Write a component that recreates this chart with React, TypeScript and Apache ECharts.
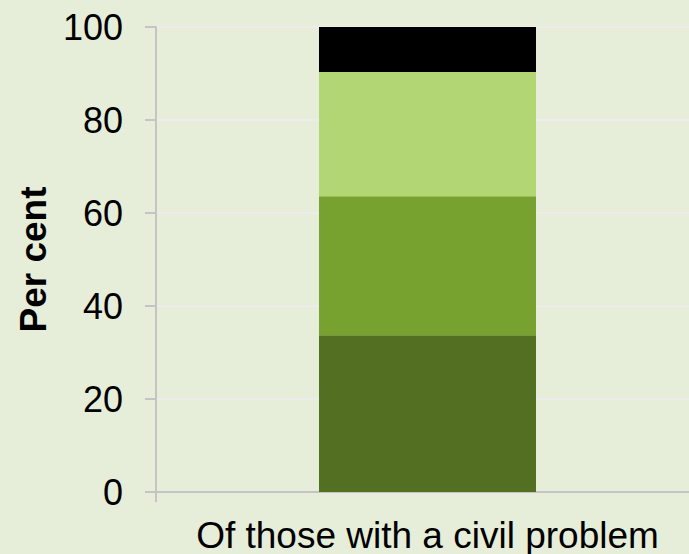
import React, { useEffect, useRef } from "react";
import * as echarts from "echarts";

// Category and stacked shares (per cent)
const categories = ["Of those with a civil problem"];
const seriesNames = ["Group 1", "Group 2", "Group 3", "Group 4"];
const seriesValues = [[33.7], [29.9], [26.7], [9.7]];
const seriesColors = ["#536f22", "#78a22f", "#b3d675", "#000000"];
const yTicks = { min: 0, max: 100, interval: 20 };

export default function App() {
  const ref = useRef<HTMLDivElement>(null);

  useEffect(() => {
    if (!ref.current) return;
    const chart = echarts.init(ref.current, undefined, { renderer: "svg" });
    const font = "'Liberation Sans', Arial, sans-serif";
    chart.setOption({
      animation: false,
      backgroundColor: "#e6edd8",
      // plot area runs slightly past the right edge of the window
      grid: { left: 156, right: 0, top: 27, bottom: 62, containLabel: false },
      xAxis: {
        type: "category",
        data: categories,
        axisLine: { show: true, lineStyle: { color: "#c4c4c4", width: 2 } },
        axisTick: {
          show: true,
          alignWithLabel: false,
          length: 10,
          lineStyle: { color: "#c4c4c4", width: 2 },
        },
        axisLabel: {
          color: "#000",
          fontFamily: font,
          fontSize: 37,
          lineHeight: 28,
          margin: 29,
        },
        splitLine: { show: false },
      },
      yAxis: {
        type: "value",
        min: yTicks.min,
        max: yTicks.max,
        interval: yTicks.interval,
        name: "Per cent",
        nameLocation: "middle",
        nameGap: 104,
        nameRotate: 90,
        nameTextStyle: {
          color: "#000",
          fontFamily: font,
          fontSize: 37,
          fontWeight: "bold",
        },
        axisLine: { show: true, lineStyle: { color: "#c4c4c4", width: 2 } },
        axisTick: {
          show: true,
          length: 11,
          lineStyle: { color: "#c4c4c4", width: 2 },
        },
        axisLabel: {
          color: "#000",
          fontFamily: font,
          fontSize: 36,
          margin: 33,
        },
        splitLine: { show: true, lineStyle: { color: "#ececec", width: 2 } },
      },
      series: seriesNames.map((name, i) => ({
        name,
        type: "bar",
        stack: "total",
        barWidth: 217,
        data: seriesValues[i],
        itemStyle: { color: seriesColors[i] },
      })),
    });
    return () => chart.dispose();
  }, []);

  return (
    <div
      ref={ref}
      style={{ position: "fixed", left: 0, top: 0, width: 699, height: 554 }}
    />
  );
}
